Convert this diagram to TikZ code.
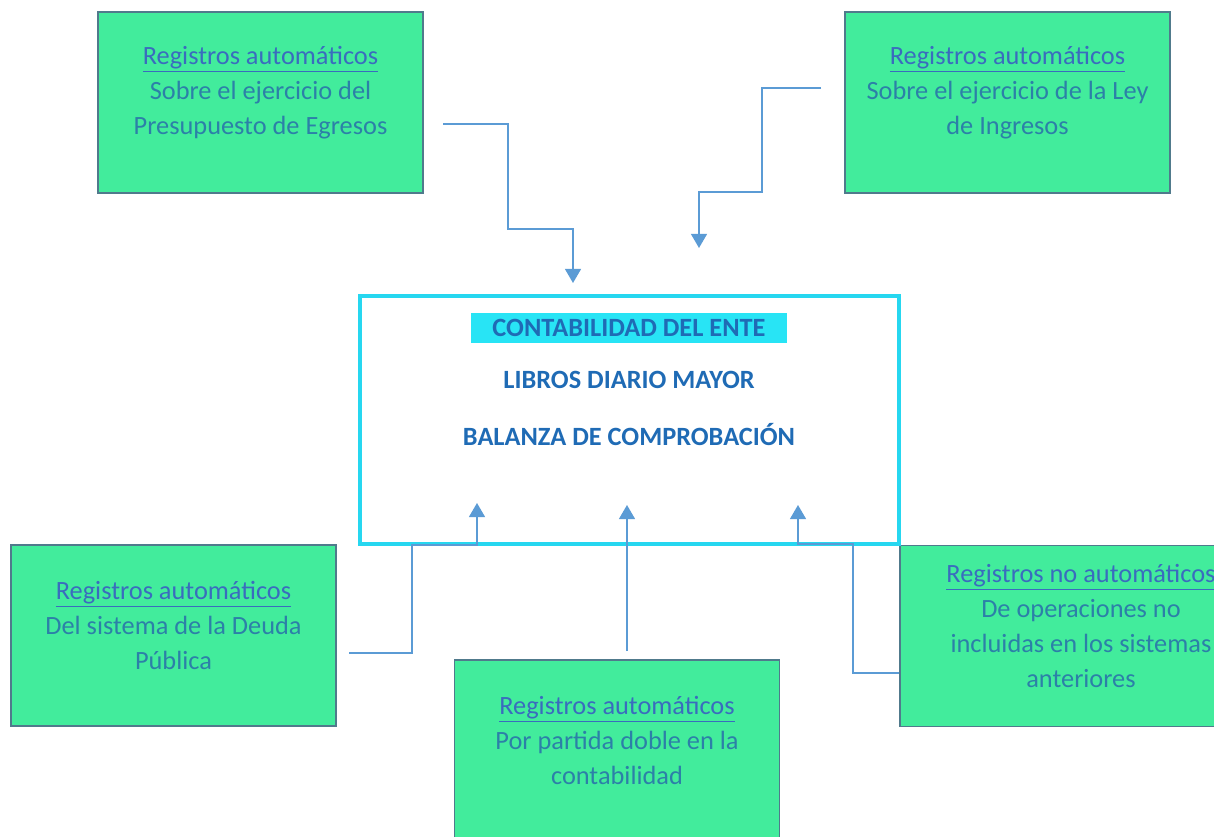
\documentclass[tikz,border=0pt]{standalone}
\usepackage{fontspec}
\setmainfont{Carlito}
\usetikzlibrary{positioning}
\usetikzlibrary{arrows.meta}
\definecolor{verde}{RGB}{66,236,156}
\definecolor{borde}{RGB}{80,122,140}
\definecolor{azultit}{RGB}{58,108,190}
\definecolor{azultxt}{RGB}{44,128,168}
\definecolor{azulente}{RGB}{31,107,181}
\definecolor{cian}{RGB}{38,215,240}
\definecolor{resaltado}{RGB}{40,228,245}
\definecolor{azulflecha}{RGB}{91,155,213}
\tikzset{>={Triangle[width=9pt,length=8pt]}}
\tikzset{caja/.style={draw=borde, line width=1pt, fill=verde, minimum width=6.5cm, minimum height=3.62cm, inner sep=0pt}}
\tikzset{txt/.style={align=center, text=azultxt, font=\fontsize{15}{19.8}\selectfont}}
\tikzset{ente/.style={text=azulente, inner sep=0pt, font=\fontsize{15}{17}\selectfont\bfseries}}
\tikzset{flecha/.style={->, draw=azulflecha, line width=1.1pt}}
\newcommand{\tit}[1]{\textcolor{azultit}{\underline{#1}}}

\begin{document}
\begin{tikzpicture}[x=0.02cm, y=-0.02cm]
        \useasboundingbox[fill=white] (0,0) rectangle (1214,837);

        \node[caja] (egresos) at (260.5,102.5) {};
        \node[caja] (ingresos) at (1007.5,102.5) {};
        \node[caja] (deuda) at (173.5,635.5) {};
        \node[caja] (partida) at (617,750.5) {};
        \node[caja] (noauto) at (1062.5,636) {};

        \node[txt] (egresos-t) at ([yshift=0.2cm]egresos.center) {\tit{Registros automáticos}\\Sobre el ejercicio del\\Presupuesto de Egresos};
        \node[txt] (ingresos-t) at ([yshift=0.2cm]ingresos.center) {\tit{Registros automáticos}\\Sobre el ejercicio de la Ley\\de Ingresos};
        \node[txt] (deuda-t) at ([yshift=0.2cm]deuda.center) {\tit{Registros automáticos}\\Del sistema de la Deuda\\Pública};
        \node[txt] (partida-t) at ([yshift=0.2cm]partida.center) {\tit{Registros automáticos}\\Por partida doble en la\\contabilidad};
        \node[txt] (noauto-t) at ([xshift=0.37cm,yshift=0.2cm]noauto.center) {\tit{Registros no automáticos}\\De operaciones no\\incluidas en los sistemas\\anteriores};

        \node[draw=cian, line width=2.2pt, minimum width=10.78cm, minimum height=4.96cm] (contab) at (629.5,420) {};
        \begin{scope}[on grid]
        \node[ente, fill=resaltado, minimum width=6.32cm, minimum height=0.6cm] (titulo) at (629,328) {CONTABILIDAD DEL ENTE};
        \node[ente, below=1.04cm of titulo] (libros) {LIBROS DIARIO MAYOR};
        \node[ente, below=1.1cm of libros] (balanza) {BALANZA DE COMPROBACIÓN};
        \end{scope}

        \coordinate (s1) at (443,124);
        \coordinate (t1) at (573,283);
        \coordinate (s2) at (821,88);
        \coordinate (t2) at (699,248);
        \coordinate (s3) at (349,653);
        \coordinate (t3) at (477,503);
        \coordinate (s4) at (627,651);
        \coordinate (t4) at (627,505);
        \coordinate (s5) at (noauto.west |- 0,673);
        \coordinate (t5) at (798,505);

        \draw[flecha] (s1) -| (508,229) -| (t1);
        \draw[flecha] (s2) -| (762,192) -| (t2);
        \draw[flecha] (s3) -| (412,545) -| (t3);
        \draw[flecha] (s4) -- (t4);
        \draw[flecha] (s5) -| (853,544) -| (t5);
\end{tikzpicture}
\end{document}
